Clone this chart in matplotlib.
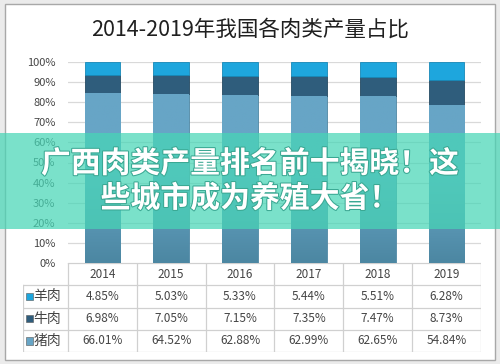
import numpy as np
import matplotlib.pyplot as plt
from matplotlib.patches import Rectangle
from matplotlib.colors import LinearSegmentedColormap
import matplotlib.patheffects as pe

plt.rcParams['font.family'] = ['Noto Sans CJK SC', 'DejaVu Sans']

years = ['2014', '2015', '2016', '2017', '2018', '2019']
series_names = ['羊肉', '牛肉', '猪肉']
mutton = [4.85, 5.03, 5.33, 5.44, 5.51, 6.28]
beef = [6.98, 7.05, 7.15, 7.35, 7.47, 8.73]
pork = [66.01, 64.52, 62.88, 62.99, 62.65, 54.84]

title = '2014-2019年我国各肉类产量占比'
banner = '广西肉类产量排名前十揭晓！这\n些城市成为养殖大省！'

colors = {'羊肉': '#1ea6dd', '牛肉': '#2f5d7c', '猪肉': '#67a5c6'}
text_col = '#454545'
grid_col = '#d9d9d9'

W, H = 500, 364
fig = plt.figure(figsize=(W / 100, H / 100), dpi=100, facecolor='#ebebeb')


def fx(px):
    return px / W


def fy(py):
    return 1 - py / H


# white panel with a thin grey border
fig.patches.append(Rectangle((fx(5), fy(360)), fx(490), 356 / H, transform=fig.transFigure,
                             facecolor='white', edgecolor='#a8a8a8', linewidth=1, zorder=-5))

fig.text(0.5, fy(30), title, ha='center', va='center', fontsize=15.5, color='#202020',
         fontweight='medium')

# --- stacked 100% bars ---
ax = fig.add_axes([fx(68), fy(263), fx(413), (263 - 62) / H])
ax.set_zorder(2)
ax.set_facecolor('none')
mutton_a, beef_a, pork_a = np.array(mutton), np.array(beef), np.array(pork)
total = mutton_a + beef_a + pork_a
x = np.arange(len(years))
w = 0.52
p = pork_a / total
b = beef_a / total
m = mutton_a / total
pork_bars = ax.bar(x, p, w, color=colors['猪肉'], edgecolor='#4f87a3', linewidth=0.6, zorder=3)
ax.bar(x, b, w, bottom=p, color=colors['牛肉'], edgecolor='#244a63', linewidth=0.6, zorder=3)
ax.bar(x, m, w, bottom=p + b, color=colors['羊肉'], edgecolor='#1789b8', linewidth=0.6, zorder=3)

# pork bars get darker toward the base, like the original
grad = LinearSegmentedColormap.from_list('pork', ['#4c87a2', colors['猪肉'], colors['猪肉']])
for bar in pork_bars:
    x0, y0 = bar.get_x(), bar.get_y()
    im = ax.imshow(np.linspace(0, 1, 64).reshape(-1, 1), cmap=grad, aspect='auto', origin='lower',
                   extent=[x0, x0 + bar.get_width(), y0, y0 + bar.get_height()], zorder=3.5)
    im.set_clip_path(bar)

ax.set_xlim(-0.5, len(years) - 0.5)
ax.set_ylim(0, 1)
ticks = np.arange(0, 1.01, 0.1)
ax.set_yticks(ticks)
ax.set_yticklabels([f'{int(round(t * 100))}%' for t in ticks])
ax.tick_params(axis='y', length=0, pad=9, labelsize=8, labelcolor=text_col)
ax.set_xticks([])
ax.grid(axis='y', color=grid_col, linewidth=0.9, zorder=0)
for s in ax.spines.values():
    s.set_visible(False)

# --- data table under the plot ---
tab = fig.add_axes([fx(23), fy(352), fx(458), (352 - 263) / H])
tab.set_zorder(2)
tab.set_axis_off()
lab_w = 45 / 69
tab.set_xlim(-0.5 - lab_w, len(years) - 0.5)
tab.set_ylim(0, 4)
line_kw = dict(color='#d0d0d0', linewidth=0.9)
tab.plot([-0.5, len(years) - 0.5], [4, 4], **line_kw)
for yy in [0, 1, 2, 3]:
    tab.plot([-0.5 - lab_w, len(years) - 0.5], [yy, yy], **line_kw)
tab.plot([-0.5 - lab_w, -0.5 - lab_w], [0, 3], **line_kw)
for i in range(len(years) + 1):
    tab.plot([i - 0.5, i - 0.5], [0, 4], **line_kw)

for i, yr in enumerate(years):
    tab.text(i, 3.5, yr, ha='center', va='center', fontsize=8.5, color=text_col)

rows = [('羊肉', mutton), ('牛肉', beef), ('猪肉', pork)]
for r, (name, vals) in enumerate(rows):
    yc = 2.5 - r
    tab.add_patch(Rectangle((-0.5 - lab_w + 0.04, yc - 0.17), 0.1, 0.34,
                            facecolor=colors[name], edgecolor='#555555', linewidth=0.4))
    tab.text(-0.5 - lab_w + 0.15, yc, name, ha='left', va='center', fontsize=10, color=text_col)
    for i, v in enumerate(vals):
        tab.text(i, yc, f'{v:.2f}%', ha='center', va='center', fontsize=8.5, color=text_col)

# --- translucent banner over the chart ---
band = fig.add_axes([0, fy(229), 1, 96 / H])
band.set_zorder(10)
band.set_axis_off()
band.add_patch(Rectangle((0, 0), 1, 1, transform=band.transAxes,
                         facecolor='#47d6b6', alpha=0.72, edgecolor='none'))
band.text(0.5, 0.5, banner, ha='center', va='center', multialignment='center',
          fontsize=21.5, fontweight='bold', color='white', linespacing=1.2,
          transform=band.transAxes,
          path_effects=[pe.withStroke(linewidth=1.5, foreground='#3aa893')])

fig.savefig('out.png', dpi=100, facecolor=fig.get_facecolor())
